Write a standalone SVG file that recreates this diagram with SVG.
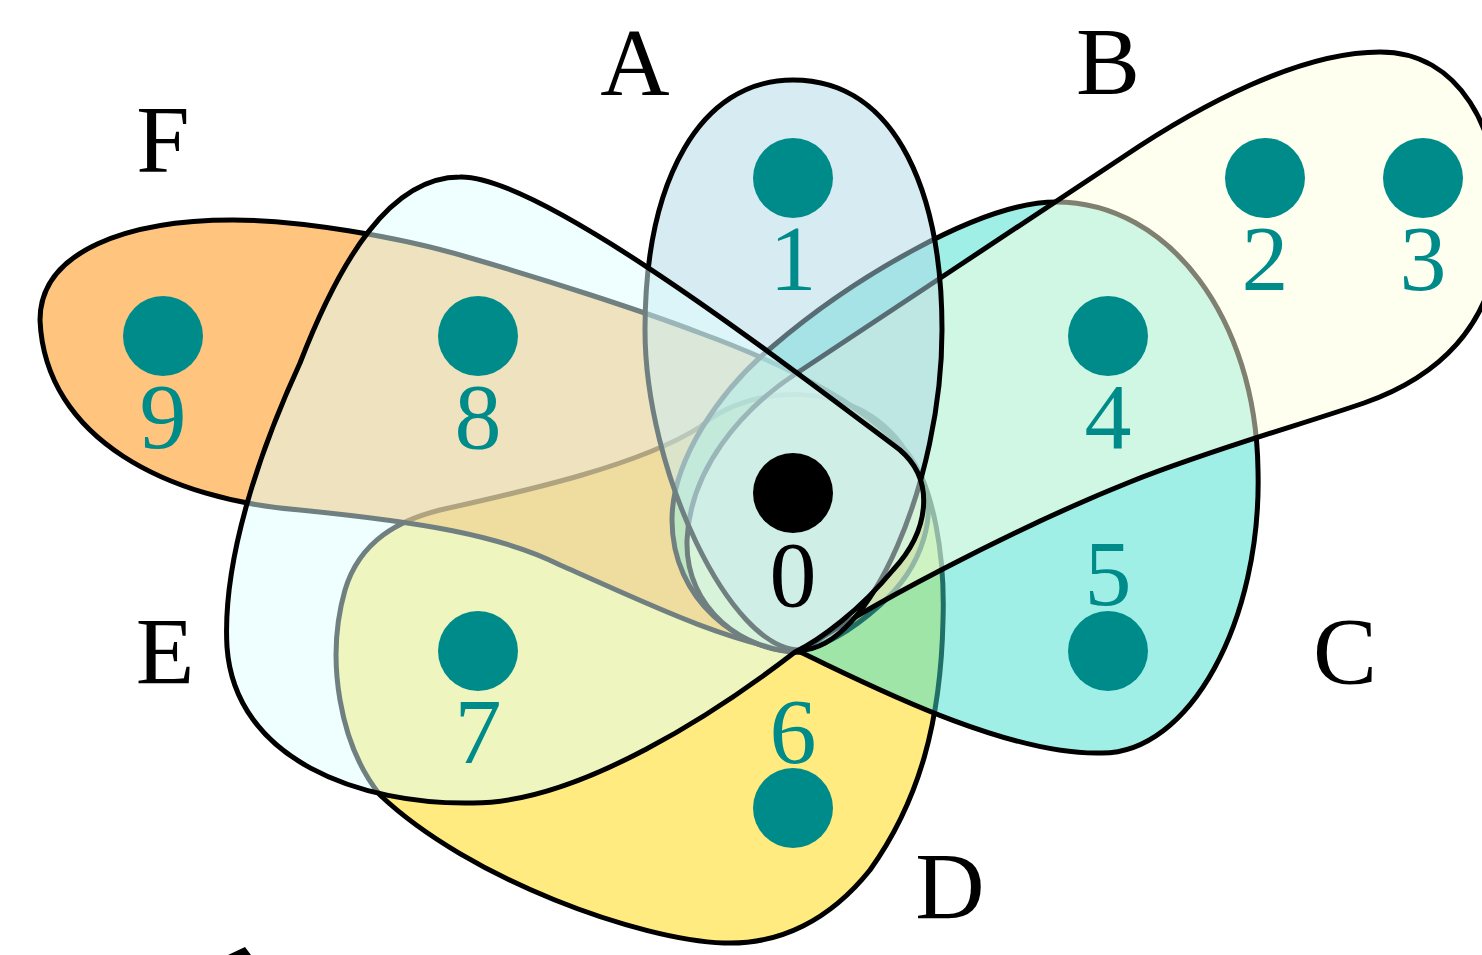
<svg xmlns="http://www.w3.org/2000/svg" width="1482" height="955" viewBox="0 0 1482 955">
<style>
.he{fill-opacity:0.5;stroke:#000;stroke-width:5;stroke-linejoin:round}
.nd{fill:#008b8b}
.lb{font-family:"Liberation Serif","DejaVu Serif",serif;font-size:94px;fill:#008b8b;text-anchor:middle}
.el{font-family:"Liberation Serif","DejaVu Serif",serif;font-size:96px;fill:#000;text-anchor:middle}
</style>
<rect width="1482" height="955" fill="#fff"/>
<g id="hyperedges">
<path id="edge-D" class="he" fill="#ffd700" d="M700,427 C745,385 855,375 905,450 C935,485 945,560 943,620 C941,720 920,800 870,870 C830,920 780,945 724,943 C640,940 470,880 380,795 C340,745 325,660 345,590 C360,540 400,520 440,510 C530,490 640,465 700,427 Z"/>
<path id="edge-F" class="he" fill="#ff8c00" d="M40,320 C40,250 130,220 233,220 C300,220 400,237 467,257 C540,278 640,310 700,333 C780,362 880,410 915,465 C945,510 920,570 880,605 C850,632 820,648 795,652 C720,640 640,600 560,565 C500,535 420,522 300,510 C170,500 45,440 40,320 Z"/>
<path id="edge-C" class="he" fill="#40e0d0" d="M800,652 C850,675 1000,755 1100,753 C1190,755 1262,620 1258,470 C1256,320 1170,202 1056,202 C980,202 850,280 772,347 C720,390 672,460 672,520 C672,600 740,652 800,652 Z"/>
<path id="edge-B" class="he" fill="#ffffe0" d="M800,652 C860,610 1010,530 1130,482 C1210,450 1300,425 1364,403 C1430,380 1500,330 1500,220 C1500,130 1460,52 1380,52 C1300,52 1200,105 1123,157 C1020,225 900,305 797,373 C740,410 690,470 687,540 C685,610 745,652 800,652 Z"/>
<path id="edge-A" class="he" fill="#add8e6" d="M793,80 C900,80 942,200 942,330 C942,480 870,650 800,650 C730,650 645,470 645,330 C645,180 700,80 793,80 Z"/>
<path id="edge-E" class="he" fill="#e0ffff" d="M460,177 C540,175 780,360 900,450 C935,480 930,530 893,570 C860,610 820,640 795,652 C720,710 580,803 473,803 C360,805 235,760 227,647 C222,560 260,450 300,363 C340,260 390,177 460,177 Z"/>
<polygon points="228,955 245,947 251,955" fill="#000"/>
</g>
<g id="edge-labels">
<text class="el" x="635" y="95">A</text>
<text class="el" x="1108" y="94">B</text>
<text class="el" x="1345" y="684">C</text>
<text class="el" x="950" y="919">D</text>
<text class="el" x="165" y="684">E</text>
<text class="el" x="163" y="172">F</text>
</g>
<g id="node-0"><circle cx="793" cy="493" r="40" fill="#000"/><text class="lb" x="793" y="606" style="fill:#000">0</text></g>
<g id="node-1"><circle class="nd" cx="793" cy="178" r="40"/><text class="lb" x="793" y="290">1</text></g>
<g id="node-2"><circle class="nd" cx="1265" cy="178" r="40"/><text class="lb" x="1265" y="290">2</text></g>
<g id="node-3"><circle class="nd" cx="1423" cy="178" r="40"/><text class="lb" x="1423" y="290">3</text></g>
<g id="node-4"><circle class="nd" cx="1108" cy="336" r="40"/><text class="lb" x="1108" y="448">4</text></g>
<g id="node-5"><circle class="nd" cx="1108" cy="651" r="40"/><text class="lb" x="1108" y="605">5</text></g>
<g id="node-6"><circle class="nd" cx="793" cy="808" r="40"/><text class="lb" x="793" y="763">6</text></g>
<g id="node-7"><circle class="nd" cx="478" cy="651" r="40"/><text class="lb" x="478" y="763">7</text></g>
<g id="node-8"><circle class="nd" cx="478" cy="336" r="40"/><text class="lb" x="478" y="448">8</text></g>
<g id="node-9"><circle class="nd" cx="163" cy="336" r="40"/><text class="lb" x="163" y="448">9</text></g>
</svg>
